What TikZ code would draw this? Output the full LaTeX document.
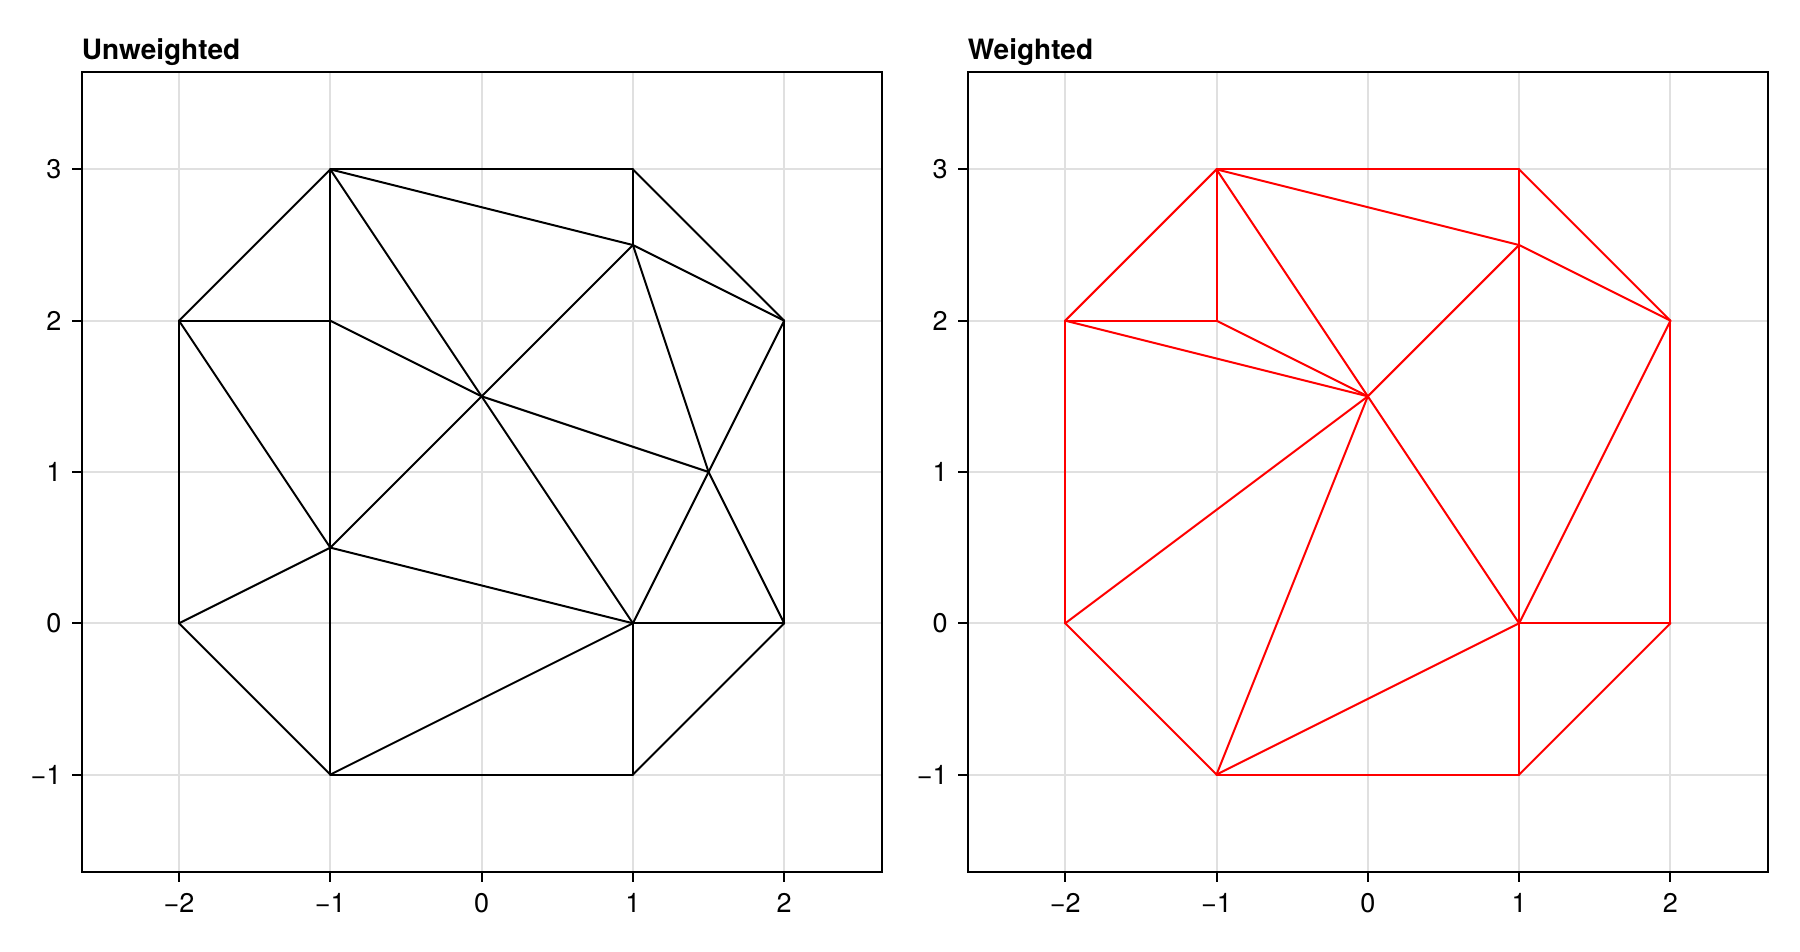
\documentclass[tikz,border=0pt]{standalone}
\usepackage{fontspec}
\setmainfont{TeX Gyre Heros}

\tikzset{
  gridline/.style={black!12, line width=2pt},
  spine/.style={black, line width=2pt},
  meshedge/.style={line width=2pt, line cap=round, line join=round},
  ticklabel/.style={inner sep=0pt, font=\fontsize{27}{27}\selectfont},
  paneltitle/.style={inner sep=0pt, anchor=base west, font=\fontsize{28}{28}\selectfont\bfseries},
}

% grid, frame, ticks and title of one panel (data units)
\newcommand{\panelaxes}[1]{
  \foreach \v in {-2,...,2} \draw[gridline] (\v,-1.644) -- (\v,3.644);
  \foreach \v in {-1,...,3} \draw[gridline] (-2.644,\v) -- (2.644,\v);
  \draw[spine] (-2.644,-1.644) rectangle (2.644,3.644);
  \foreach \v/\t in {-2/−2, -1/−1, 0/0, 1/1, 2/2} {
    \draw[spine] (\v,-1.644) -- ++(0,-10pt);
    \node[ticklabel, anchor=north] at ([yshift=-21pt]\v,-1.644) {\t};
  }
  \foreach \v/\t in {-1/−1, 0/0, 1/1, 2/2, 3/3} {
    \draw[spine] (-2.644,\v) -- ++(-10pt,0);
    \node[ticklabel, anchor=east] at ([xshift=-20pt]-2.644,\v) {\t};
  }
  \node[paneltitle] at (-2.644,3.728) {#1};
}

% mesh vertices
\newcommand{\meshpoints}[1]{
  \foreach \p/\x/\y in {a/-2/2, b/-1/3, c/1/3, d/2/2, e/2/0, f/1/-1, g/-1/-1,
      h/-2/0, i/-1/2, j/1/2.5, k/0/1.5, l/1.5/1, m/-1/0.5, n/1/0}
    \coordinate (#1\p) at (\x,\y);
}

\begin{document}
\begin{tikzpicture}[x=1pt, y=1pt]
  \useasboundingbox (0,0) rectangle (1800,952);
  \fill[white] (0,0) rectangle (1800,952);

  % left panel
  \begin{scope}[shift={(481.6,328.7)}, x=151.3pt, y=151.3pt]
    \panelaxes{Unweighted}
    \meshpoints{u}
    \foreach \s/\t in {b/c, c/j, c/d, b/j, b/a, b/i, b/k, a/i, a/h, a/m, i/m,
        i/k, j/d, j/k, j/l, d/l, d/e, k/l, k/m, k/n, l/n, l/e, m/h, m/g, m/n,
        h/g, g/n, g/f, n/e, n/f, f/e}
      \draw[meshedge, black] (u\s) -- (u\t);
  \end{scope}

  % right panel
  \begin{scope}[shift={(1367.8,328.7)}, x=151.3pt, y=151.3pt]
    \panelaxes{Weighted}
    \meshpoints{w}
    \foreach \s/\t in {b/c, c/j, j/n, n/f, c/d, b/j, j/d, j/k, b/a, b/i, b/k,
        a/i, a/k, i/k, a/h, h/k, h/g, g/k, g/n, g/f, k/n, d/n, d/e, n/e, f/e}
      \draw[meshedge, red] (w\s) -- (w\t);
  \end{scope}
\end{tikzpicture}
\end{document}
